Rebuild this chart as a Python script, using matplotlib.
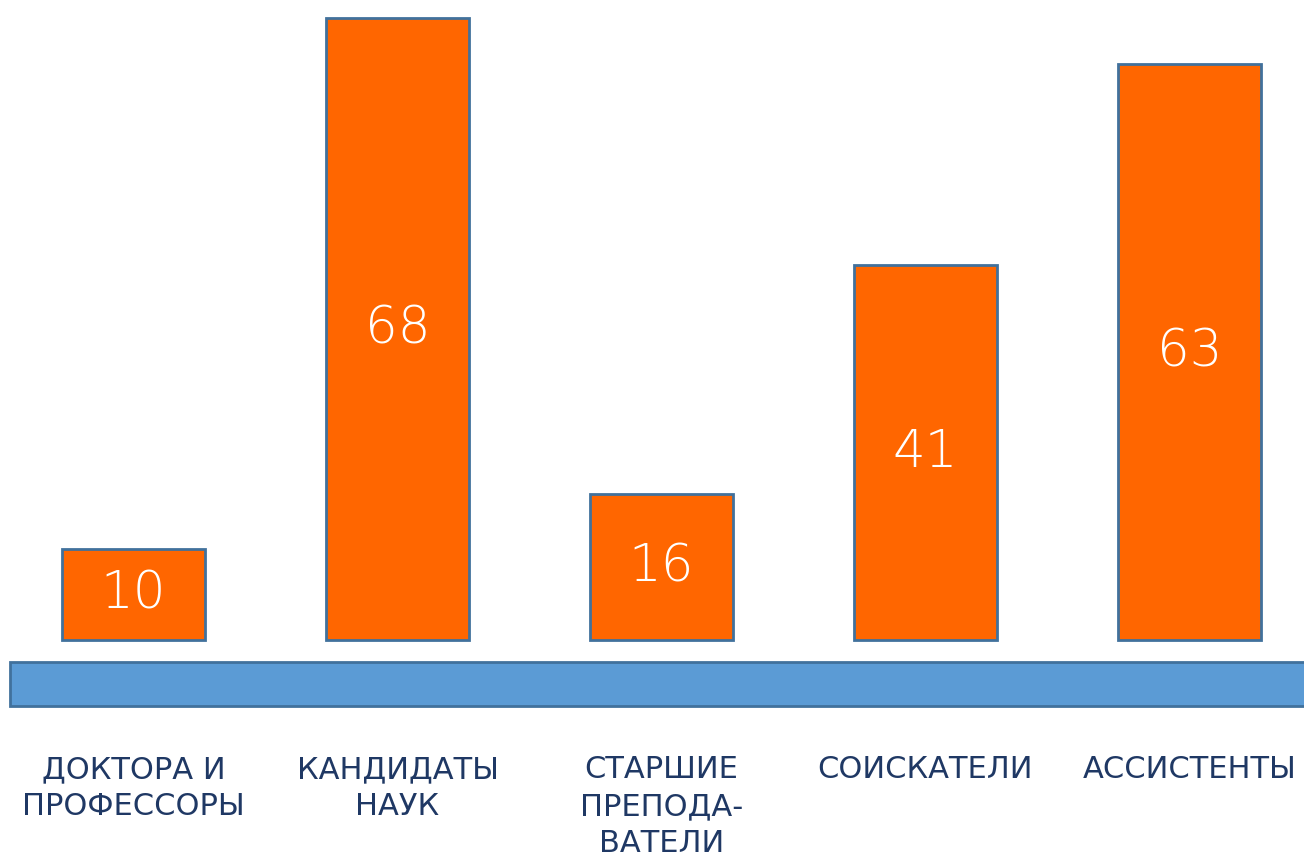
import matplotlib.pyplot as plt
from matplotlib.patches import Rectangle

categories = ["ДОКТОРА И\nПРОФЕССОРЫ", "КАНДИДАТЫ\nНАУК", "СТАРШИЕ\nПРЕПОДА-\nВАТЕЛИ",
              "СОИСКАТЕЛИ", "АССИСТЕНТЫ"]
values = [10, 68, 16, 41, 63]

fig = plt.figure(figsize=(13.04, 8.58), dpi=100)
ax = fig.add_axes([0, 0, 1, 1])

x = range(len(values))
bars = ax.bar(x, values, width=0.545, color="#FF6600", edgecolor="#41719C", linewidth=2)

for b, v in zip(bars, values):
    ax.text(b.get_x() + b.get_width() / 2, v / 2, str(v), ha="center", va="center",
            color="white", fontsize=37, fontweight="light")

# blue base band
ax.add_patch(Rectangle((0.008, 0.177), 1.0, 0.052, transform=ax.transAxes,
                       facecolor="#5B9BD5", edgecolor="#41719C", linewidth=2, clip_on=False))

for i, c in enumerate(categories):
    ax.text(i, -12.6, c, ha="center", va="top", color="#1F3864", fontsize=22,
            linespacing=1.33)

ax.set_xlim(-0.506, 4.434)
ax.set_ylim(-23.8, 69.95)
ax.axis("off")

fig.savefig("out.png", dpi=100)
